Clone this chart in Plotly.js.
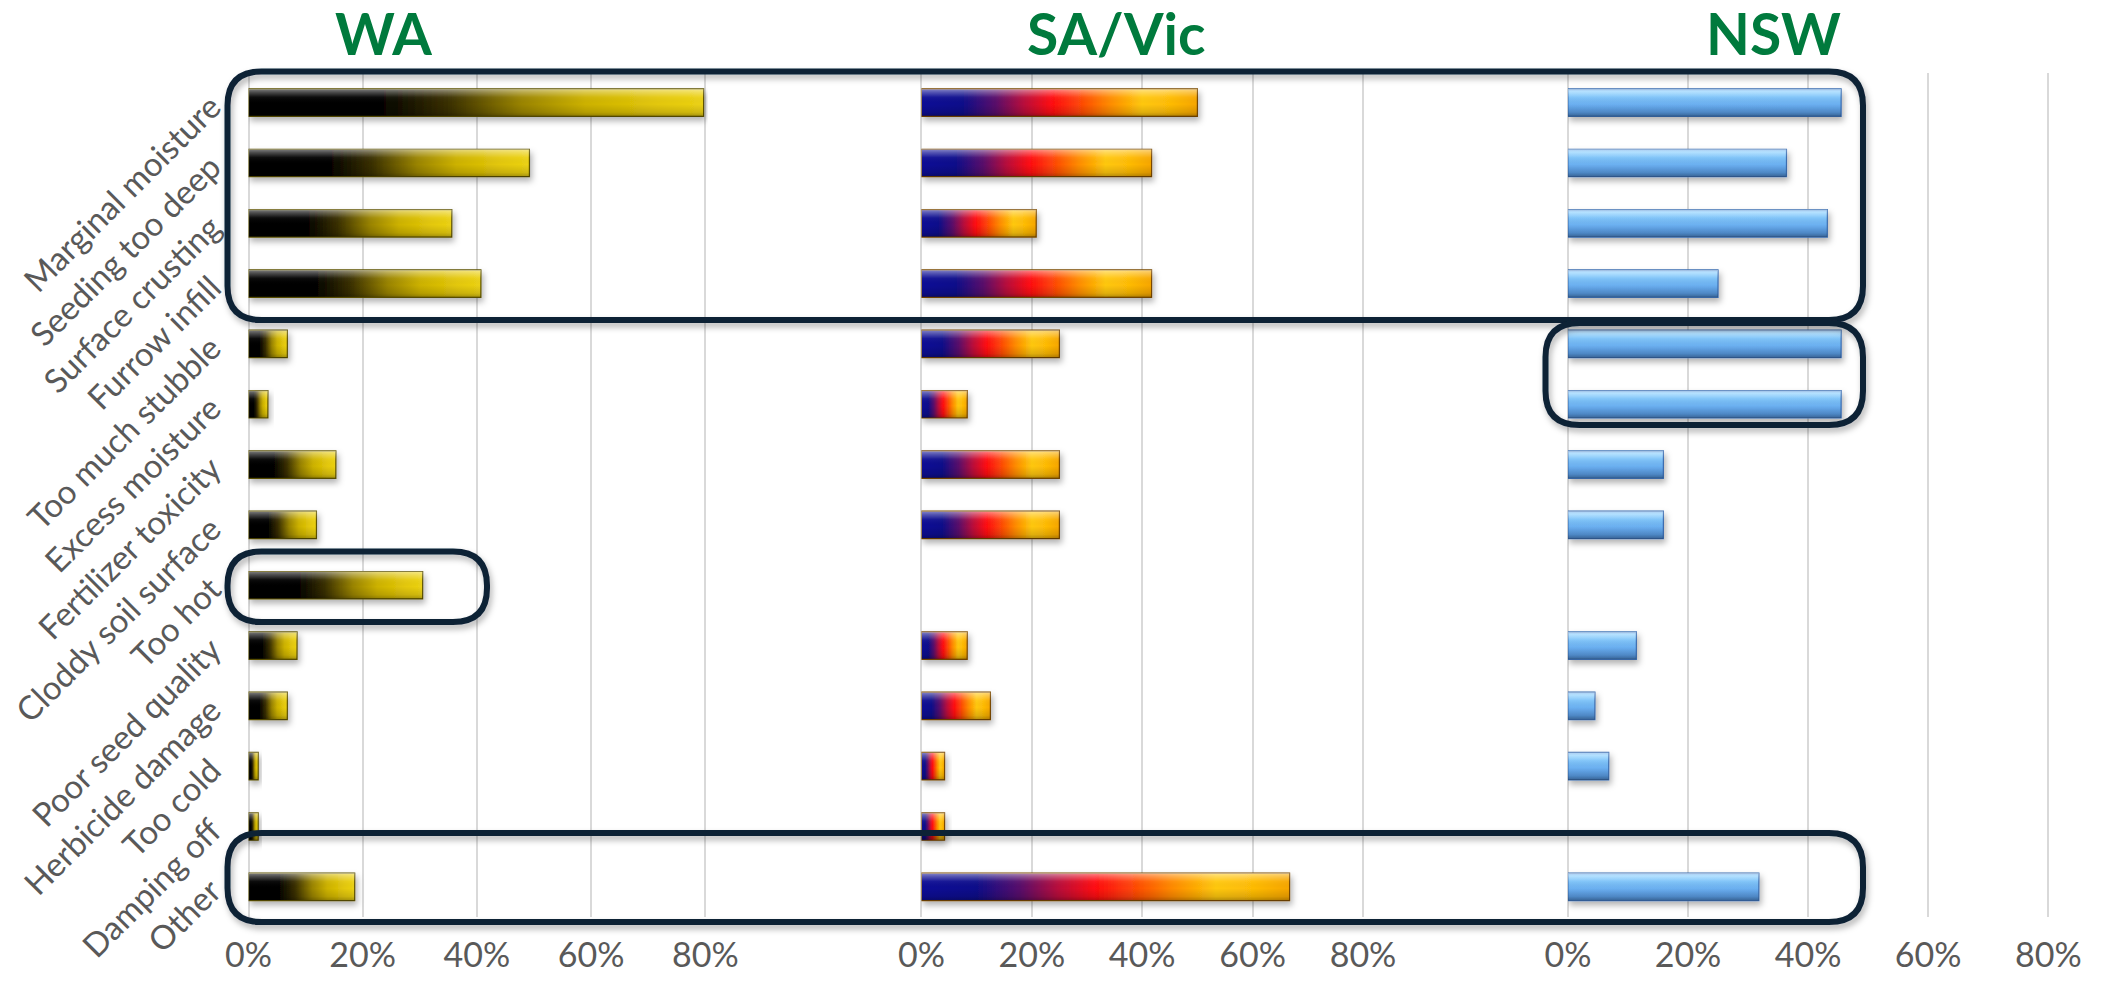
<!DOCTYPE html>
<html>
<head>
<meta charset="utf-8">
<script src="https://cdn.plot.ly/plotly-3.0.1.min.js"></script>
<style>
  html, body { margin: 0; padding: 0; background: #ffffff; }
  #chart { width: 2108px; height: 984px; }
</style>
</head>
<body>
<div id="chart"></div>
<script>
// ---------- data (percent of respondents) ----------
const categories = [
  'Marginal moisture', 'Seeding too deep', 'Surface crusting', 'Furrow infill',
  'Too much stubble', 'Excess moisture', 'Fertilizer toxicity', 'Cloddy soil surface',
  'Too hot', 'Poor seed quality', 'Herbicide damage', 'Too cold', 'Damping off', 'Other'
];
const waValues    = [79.7, 49.2, 35.6, 40.7, 6.8, 3.4, 15.3, 11.9, 30.5, 8.5, 6.8, 1.7, 1.7, 18.6];
const saVicValues = [50.0, 41.7, 20.8, 41.7, 25.0, 8.3, 25.0, 25.0, null, 8.3, 12.5, 4.2, 4.2, 66.7];
const nswValues   = [45.5, 36.4, 43.2, 25.0, 45.5, 45.5, 15.9, 15.9, null, 11.4, 4.5, 6.8, null, 31.8];
const panelTitles = ['WA', 'SA/Vic', 'NSW'];
const tickVals = [0, 20, 40, 60, 80];

// ---------- layout geometry ----------
const W = 2108, H = 984;
const px = v => v / W;
const py = v => 1 - v / H;
const plotTop = 72.5, plotBottom = 917;
const RMAX = 80.4;
const panels = [
  { zero: 248.5, scale: 5.71, titleX: 383 },
  { zero: 921.4, scale: 5.52, titleX: 1116 },
  { zero: 1567.9, scale: 6.005, titleX: 1773 }
];

const gridColor = '#d9d9d9';
const textGrey = '#595959';

function xAxis(p) {
  return {
    domain: [px(p.zero), px(p.zero + RMAX * p.scale)],
    range: [0, RMAX],
    anchor: 'y',
    tickvals: tickVals,
    ticktext: tickVals.map(v => v + '%'),
    showgrid: true, gridcolor: gridColor, gridwidth: 2,
    zeroline: true, zerolinecolor: gridColor, zerolinewidth: 2,
    showline: false, ticks: '',
    tickfont: { family: 'Lato, Open Sans, sans-serif', size: 34, color: textGrey },
    ticklabelstandoff: 15,
    fixedrange: true
  };
}

const lineColors = ['#5e5200', '#7a4a00', '#3b6db0'];
const series = [waValues, saVicValues, nswValues];
const axisIds = ['x', 'x2', 'x3'];

const data = series.map((vals, i) => ({
  type: 'bar',
  orientation: 'h',
  y: categories,
  x: vals,
  xaxis: axisIds[i],
  yaxis: 'y',
  width: 0.455,
  marker: { color: ['#d4b800', '#ff4000', '#68adee'][i], line: { color: lineColors[i], width: 1.2 } },
  hoverinfo: 'skip',
  showlegend: false
}));

function roundRect(x0, y0, x1, y1, r) {
  const rx = r / W, ry = r / H;
  const X0 = px(x0), X1 = px(x1), Y0 = py(y0), Y1 = py(y1);
  return `M ${X0 + rx},${Y0} L ${X1 - rx},${Y0} Q ${X1},${Y0} ${X1},${Y0 - ry} ` +
         `L ${X1},${Y1 + ry} Q ${X1},${Y1} ${X1 - rx},${Y1} ` +
         `L ${X0 + rx},${Y1} Q ${X0},${Y1} ${X0},${Y1 + ry} ` +
         `L ${X0},${Y0 - ry} Q ${X0},${Y0} ${X0 + rx},${Y0} Z`;
}
const boxColor = '#0d2136';
const boxes = [
  [227.5, 71.5, 1863, 320],
  [1545.5, 323, 1863, 425],
  [227.5, 551.5, 487, 622],
  [227.5, 833, 1863, 922]
];
const shapes = boxes.map(b => ({
  type: 'path', xref: 'paper', yref: 'paper',
  path: roundRect(b[0], b[1], b[2], b[3], 34),
  line: { color: boxColor, width: 6 },
  fillcolor: 'rgba(0,0,0,0)',
  layer: 'above'
}));

const annotations = panels.map((p, i) => ({
  text: panelTitles[i],
  xref: 'paper', yref: 'paper',
  x: px(p.titleX), y: py(33),
  xanchor: 'center', yanchor: 'middle',
  showarrow: false,
  font: { family: 'Lato, Open Sans, sans-serif', size: 57, color: '#007a3d', weight: 700 }
}));

const layout = {
  width: W, height: H,
  margin: { l: 0, r: 0, t: 0, b: 0, pad: 0 },
  paper_bgcolor: '#ffffff',
  plot_bgcolor: 'rgba(0,0,0,0)',
  barmode: 'overlay',
  xaxis: xAxis(panels[0]),
  xaxis2: xAxis(panels[1]),
  xaxis3: xAxis(panels[2]),
  yaxis: {
    domain: [py(plotBottom), py(plotTop)],
    type: 'category',
    categoryorder: 'array', categoryarray: categories,
    range: [categories.length - 0.5, -0.5],
    anchor: 'x',
    showgrid: false, zeroline: false, showline: false, ticks: '',
    tickangle: -45,
    tickfont: { family: 'Lato, Open Sans, sans-serif', size: 33, color: textGrey },
    ticklabelstandoff: 36,
    fixedrange: true
  },
  shapes: shapes,
  annotations: annotations
};

function decorate(gd) {
  const NS = 'http://www.w3.org/2000/svg';
  const svg = gd.querySelector('.main-svg');
  let defs = svg.querySelector('defs');
  if (!defs) { defs = document.createElementNS(NS, 'defs'); svg.insertBefore(defs, svg.firstChild); }

  function grad(id, stops, vertical) {
    const g = document.createElementNS(NS, 'linearGradient');
    g.setAttribute('id', id);
    g.setAttribute('x1', '0'); g.setAttribute('y1', '0');
    g.setAttribute('x2', vertical ? '0' : '1'); g.setAttribute('y2', vertical ? '1' : '0');
    stops.forEach(s => {
      const st = document.createElementNS(NS, 'stop');
      st.setAttribute('offset', s[0]);
      st.setAttribute('stop-color', s[1]);
      st.setAttribute('stop-opacity', s[2] === undefined ? 1 : s[2]);
      g.appendChild(st);
    });
    defs.appendChild(g);
  }
  grad('gWA', [[0, '#000000'], [0.28, '#000000'], [0.44, '#3a3000'], [0.6, '#9a8400'], [0.74, '#cdb200'], [0.9, '#e4c80a'], [1, '#ecd214']]);
  grad('gSA', [[0, '#0a0a96'], [0.14, '#08088c'], [0.27, '#5a0a6a'], [0.37, '#b8083c'], [0.47, '#ff0a12'], [0.58, '#ff4a06'], [0.68, '#ff8a00'], [0.8, '#ffc80a'], [0.9, '#ffbc06'], [1, '#f7a600']]);
  grad('gNSW', [[0, '#5d9fe4'], [0.1, '#8fd2ff'], [0.3, '#7cc2f8'], [0.65, '#66aaee'], [1, '#4f8fd6']], true);
  grad('sheen', [[0, '#ffffff', 0.5], [0.12, '#ffffff', 0.3], [0.3, '#ffffff', 0.05], [0.55, '#000000', 0], [0.85, '#000000', 0.12], [1, '#000000', 0.3]], true);

  const f = document.createElementNS(NS, 'filter');
  f.setAttribute('id', 'dshadow');
  f.setAttribute('x', '-20%'); f.setAttribute('y', '-40%');
  f.setAttribute('width', '150%'); f.setAttribute('height', '200%');
  const ds = document.createElementNS(NS, 'feDropShadow');
  ds.setAttribute('dx', '2'); ds.setAttribute('dy', '4'); ds.setAttribute('stdDeviation', '3');
  ds.setAttribute('flood-color', '#000'); ds.setAttribute('flood-opacity', '0.3');
  f.appendChild(ds);
  defs.appendChild(f);

  const fills = ['url(#gWA)', 'url(#gSA)', 'url(#gNSW)'];
  gd.querySelectorAll('g.trace.bars').forEach((g, k) => {
    let idx = k;
    try { idx = g.__data__[0].trace.index; } catch (e) {}
    g.querySelectorAll('g.point > path').forEach(p => {
      p.style.fill = fills[idx];
      p.style.fillOpacity = 1;
      p.style.filter = 'url(#dshadow)';
      const c = p.cloneNode(false);
      c.style.fill = 'url(#sheen)';
      c.style.stroke = 'none';
      c.style.filter = 'none';
      p.parentNode.insertBefore(c, p.nextSibling);
    });
  });

  gd.querySelectorAll('.shapelayer path').forEach(p => {
    p.style.filter = 'url(#dshadow)';
  });
}

Plotly.newPlot('chart', data, layout, { staticPlot: true, displayModeBar: false })
  .then(gd => decorate(gd));
</script>
</body>
</html>
